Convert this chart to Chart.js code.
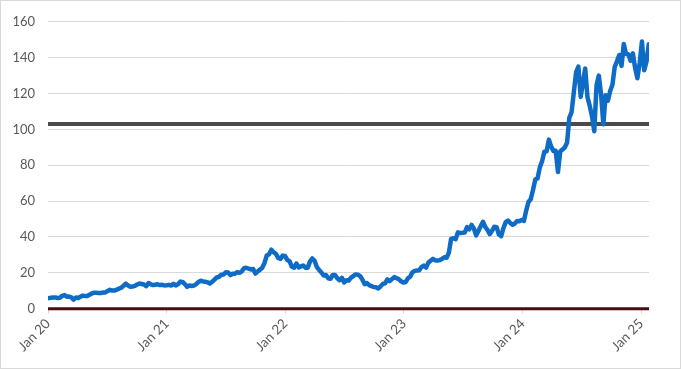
<!DOCTYPE html>
<html>
<head>
<meta charset="utf-8">
<script src="https://cdn.jsdelivr.net/npm/chart.js@4.4.1/dist/chart.umd.min.js"></script>
<style>
  html, body { margin: 0; padding: 0; background: #fff; }
  #wrap { width: 681px; height: 369px; box-sizing: border-box; border: 1px solid #d9d9d9; }
  canvas { display: block; }
</style>
</head>
<body>
<div id="wrap"><canvas id="grafico" width="679" height="367"></canvas></div>
<script>
// Fechamentos semanais (sextas-feiras), começando em 3 jan 2020
const firstWeek = [2020, 0, 3];
const closes2020 = [5.9, 6.1, 6.2, 6.3, 5.9, 6.1, 7.2, 7.6, 6.7, 6.8, 6.3, 5.0, 6.2, 6.0, 6.7, 7.3,
  7.1, 7.1, 7.8, 8.5, 8.9, 8.9, 8.7, 8.7, 9.1, 9.1, 9.9, 10.5, 10.1, 10.1, 10.6, 11.2, 11.7, 12.8,
  14.0, 12.9, 12.2, 12.4, 12.7, 13.5, 14.0, 13.8, 13.5, 12.6, 14.3, 13.6, 13.2, 13.4, 13.6, 13.2, 13.3, 13.0];
const closes2021 = [13.1, 13.3, 12.9, 13.9, 13.0, 13.6, 15.1, 14.9, 13.7, 12.2, 12.9, 12.7, 12.9, 13.7,
  14.9, 15.6, 15.2, 15.0, 14.7, 14.0, 15.0, 16.2, 17.4, 17.8, 18.9, 19.1, 20.3, 20.2, 18.7, 19.5, 19.5,
  20.4, 20.0, 20.8, 22.6, 22.8, 22.4, 21.9, 22.1, 19.6, 20.8, 21.8, 22.8, 25.5, 29.7, 30.4, 32.9, 31.5,
  30.6, 28.3, 27.8, 29.6, 29.4];
const closes2022 = [27.2, 26.5, 23.4, 22.9, 25.2, 23.0, 23.6, 24.1, 22.9, 22.9, 26.4, 28.0, 26.7, 23.2,
  21.6, 20.2, 18.5, 18.8, 17.0, 16.7, 18.8, 18.8, 17.0, 15.9, 17.2, 14.6, 15.9, 15.7, 17.3, 18.2, 19.1,
  19.0, 18.2, 16.3, 13.7, 14.3, 13.1, 12.6, 12.1, 12.0, 11.3, 12.5, 13.8, 14.2, 16.3, 15.4, 16.5, 17.6,
  17.0, 16.5, 15.3, 14.6];
const closes2023 = [14.9, 16.9, 17.8, 20.3, 21.1, 21.3, 21.4, 23.3, 24.0, 22.9, 25.7, 26.7, 27.8, 27.0,
  26.8, 27.1, 27.7, 28.7, 28.4, 31.2, 38.9, 39.3, 38.8, 42.6, 42.2, 42.3, 42.5, 45.5, 44.3, 46.7, 44.7,
  40.9, 43.3, 46.0, 48.5, 45.6, 43.9, 41.6, 43.5, 45.7, 45.5, 41.4, 40.5, 45.0, 48.3, 49.2, 47.8, 46.8,
  47.5, 48.9, 48.8, 49.5];
const closes2024 = [49.0, 54.7, 59.5, 61.0, 66.2, 72.1, 72.6, 78.8, 82.2, 87.5, 87.8, 94.3, 90.4, 88.0,
  88.1, 76.2, 87.7, 88.8, 89.9, 92.5, 106.5, 109.6, 120.9, 131.9, 135.0, 118.1, 125.8, 134.0, 117.9,
  113.1, 107.3, 99.0, 124.6, 130.0, 119.4, 102.8, 119.1, 116.0, 121.4, 124.9, 134.8, 138.0, 141.5, 135.4,
  147.6, 142.0, 141.9, 138.3, 142.4, 134.2, 128.5, 137.0];
const closes2025 = [149.0, 133.0, 137.7, 147.5];

const yTicks = [0, 20, 40, 60, 80, 100, 120, 140, 160];
const yearLabels = ['Jan 20', 'Jan 21', 'Jan 22', 'Jan 23', 'Jan 24', 'Jan 25'];
const refLevel = 103;
const zeroLevel = 0;

const closes = [].concat(closes2020, closes2021, closes2022, closes2023, closes2024, closes2025);

// posição no eixo x em anos desde 1 jan 2020
function yearPos(d) {
  const y = d.getUTCFullYear();
  const a = Date.UTC(y, 0, 1), b = Date.UTC(y + 1, 0, 1);
  return (y - 2020) + (d.getTime() - a) / (b - a);
}

const pontos = closes.map((v, i) => ({
  x: yearPos(new Date(Date.UTC(firstWeek[0], firstWeek[1], firstWeek[2] + 7 * i))),
  y: v
}));
const xMax = 5.065;

const ctx = document.getElementById('grafico').getContext('2d');
new Chart(ctx, {
  type: 'line',
  data: {
    datasets: [
      {
        data: pontos, borderColor: '#0e6cc6', borderWidth: 4.5, pointRadius: 0, tension: 0,
        borderJoinStyle: 'round', borderCapStyle: 'round'
      },
      { data: [{ x: 0, y: refLevel }, { x: xMax, y: refLevel }], borderColor: '#4a4a4d', borderWidth: 4, pointRadius: 0 },
      { data: [{ x: 0, y: zeroLevel }, { x: xMax, y: zeroLevel }], borderColor: '#4b0b12', borderWidth: 3, pointRadius: 0, clip: false }
    ]
  },
  options: {
    responsive: false,
    animation: false,
    events: [],
    layout: { padding: { top: 18, right: 31, left: 0, bottom: 0 } },
    plugins: { legend: { display: false }, tooltip: { enabled: false } },
    scales: {
      x: {
        type: 'linear',
        min: 0,
        max: xMax,
        afterFit: s => { s.height = 59.3; },
        grid: { drawOnChartArea: false, drawTicks: true, tickLength: 5, color: '#d9d9d9' },
        border: { display: false },
        ticks: {
          stepSize: 1,
          includeBounds: false,
          minRotation: 45,
          maxRotation: 45,
          padding: 2,
          color: '#595959',
          font: { family: 'Lato', size: 13.5 },
          callback: v => yearLabels[Math.round(v)]
        }
      },
      y: {
        min: yTicks[0],
        max: yTicks[yTicks.length - 1],
        afterFit: s => { s.width = 47; },
        afterBuildTicks: s => { s.ticks = yTicks.map(v => ({ value: v })); },
        grid: { drawTicks: false, color: '#d9d9d9' },
        border: { display: false },
        ticks: {
          padding: 13,
          color: '#595959',
          font: { family: 'Lato', size: 13 }
        }
      }
    }
  }
});
</script>
</body>
</html>
